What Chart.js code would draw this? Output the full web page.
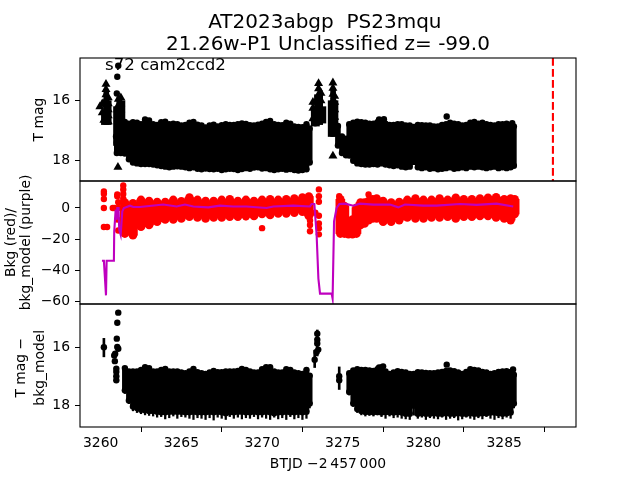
<!DOCTYPE html>
<html>
<head>
<meta charset="utf-8">
<title>AT2023abgp</title>
<style>
  html, body { margin: 0; padding: 0; background: #fff; }
  canvas { display: block; }
</style>
<script src="https://cdn.jsdelivr.net/npm/chart.js@4"></script>
</head>
<body>
<canvas id="lc" width="640" height="480"></canvas>
<script>
// ---------- Text ----------
const TITLE = ["AT2023abgp  PS23mqu ", "21.26w-P1 Unclassified z= -99.0"];
const NOTE = "s72 cam2ccd2";
const X_LABEL = "BTJD \u22122\u2009457\u2009000";

// ---------- Ticks ----------
const X_TICKS = [3260, 3265, 3270, 3275, 3280, 3285];
const T_TICKS = [16, 18];
const M_TICKS = [0, -20, -40, -60];
const B_TICKS = [16, 18];

// ---------- Top panel: T mag ----------
const tX = [3261.0, 3261.25, 3261.5, 3261.75, 3262, 3262.25, 3262.5, 3262.75, 3263, 3263.25,
  3263.5, 3263.75, 3264, 3264.25, 3264.5, 3264.75, 3265, 3265.25, 3265.5, 3265.75,
  3266, 3266.25, 3266.5, 3266.75, 3267, 3267.25, 3267.5, 3267.75, 3268, 3268.25,
  3268.5, 3268.75, 3269, 3269.25, 3269.5, 3269.75, 3270, 3270.25, 3270.5, 3270.75,
  3271, 3271.25, 3271.5, 3271.75, 3272, 3272.25, 3272.5, 3272.75, 3272.95,
  3274.45, 3274.7, 3274.95, 3275.2,
  3275.4, 3275.65, 3275.9, 3276.15, 3276.4, 3276.65, 3276.9, 3277.15, 3277.4, 3277.65,
  3277.9, 3278.15, 3278.4, 3278.65, 3278.9, 3279.15, 3279.4, 3279.65, 3279.9, 3280.15,
  3280.4, 3280.65, 3280.9, 3281.15, 3281.4, 3281.65, 3281.9, 3282.15, 3282.4, 3282.65,
  3282.9, 3283.15, 3283.4, 3283.65, 3283.9, 3284.15, 3284.4, 3284.65, 3284.9, 3285.15,
  3285.4, 3285.6];
const tHi = [16.35, 16.3, 16.71, 16.77, 16.72, 16.74, 16.79, 16.63, 16.66, 16.79,
  16.81, 16.72, 16.70, 16.79, 16.77, 16.79, 16.83, 16.81, 16.74, 16.71,
  16.80, 16.83, 16.90, 16.83, 16.80, 16.86, 16.82, 16.79, 16.81, 16.81,
  16.79, 16.76, 16.78, 16.82, 16.83, 16.80, 16.77, 16.71, 16.68, 16.79,
  16.81, 16.82, 16.74, 16.77, 16.86, 16.88, 16.89, 16.79, 16.93,
  16.7, 16.85, 17.2, 17.27,
  16.79, 16.74, 16.70, 16.72, 16.74, 16.77, 16.77, 16.72, 16.72, 16.77,
  16.81, 16.81, 16.79, 16.79, 16.83, 16.83, 16.88, 16.81, 16.82, 16.83,
  16.83, 16.86, 16.86, 16.81, 16.79, 16.74, 16.77, 16.79, 16.83, 16.81,
  16.74, 16.71, 16.77, 16.74, 16.79, 16.81, 16.83, 16.79, 16.79, 16.77,
  16.81, 16.86];
const tLo = [17.75, 17.75, 17.77, 17.96, 18.07, 18.10, 18.12, 18.12, 18.12, 18.14,
  18.16, 18.19, 18.21, 18.23, 18.21, 18.20, 18.21, 18.23, 18.26, 18.23,
  18.28, 18.30, 18.27, 18.29, 18.30, 18.28, 18.32, 18.30, 18.28, 18.29,
  18.32, 18.29, 18.26, 18.28, 18.24, 18.23, 18.27, 18.26, 18.30, 18.32,
  18.30, 18.28, 18.31, 18.29, 18.32, 18.34, 18.32, 18.30, 18.07,
  17.1, 17.5, 17.75, 17.83,
  17.84, 18.01, 18.10, 18.12, 18.14, 18.14, 18.12, 18.14, 18.10, 18.14,
  18.16, 18.19, 18.16, 18.21, 18.23, 18.21, 18.05, 18.23, 18.26, 18.23,
  18.28, 18.26, 18.30, 18.28, 18.26, 18.23, 18.28, 18.26, 18.23, 18.26,
  18.21, 18.23, 18.21, 18.23, 18.26, 18.23, 18.21, 18.26, 18.23, 18.26,
  18.23, 18.18];
// bright stretches: solid columns under the triangles
const lobeX = [3260.2, 3260.35, 3260.5, 3260.95, 3261.15, 3261.35, 3273.2, 3273.4, 3273.6, 3273.8, 3274.25, 3274.4, 3274.55];
const lobeHi = [16.4, 15.7, 16.0, 16.2, 15.9, 16.0, 16.2, 15.8, 15.7, 16.2, 16.0, 15.6, 16.0];
const lobeLo = [16.8, 16.8, 16.8, 17.5, 17.5, 17.4, 16.85, 16.85, 16.8, 16.75, 17.2, 17.2, 16.75];
// upper limits (triangles)
const tLimX = [3259.95, 3260.1, 3260.1, 3260.2, 3260.33, 3260.33, 3260.33, 3260.33, 3260.33, 3260.33, 3260.33, 3260.33, 3260.47, 3260.47, 3260.47, 3260.47, 3260.47,
  3261.1, 3261.1, 3261.1, 3261.1, 3261.25, 3261.25, 3261.25, 3261.25, 3261.07,
  3273.15, 3273.15, 3273.15, 3273.3, 3273.3, 3273.5, 3273.5, 3273.5, 3273.5, 3273.5, 3273.5, 3273.65, 3273.65, 3273.65, 3273.65,
  3274.39, 3274.39, 3274.39, 3274.39, 3274.39, 3274.39, 3274.39, 3274.39, 3274.5, 3274.5, 3274.5, 3274.5, 3274.39];
const tLimY = [16.2, 16.1, 16.4, 16.65, 15.45, 15.62, 15.8, 15.97, 16.15, 16.3, 16.45, 16.7, 15.9, 16.1, 16.3, 16.5, 16.7,
  15.95, 16.15, 16.35, 16.6, 15.9, 16.1, 16.3, 16.55, 18.23,
  16.05, 16.25, 16.6, 16.05, 16.7, 15.42, 15.6, 15.8, 16.0, 16.2, 16.7, 15.75, 16.0, 16.27, 16.65,
  15.4, 15.58, 15.78, 16.0, 16.2, 16.4, 16.6, 16.85, 15.85, 16.05, 16.3, 16.55, 17.85];
const tDotX = [3261.09, 3261.03, 3261.0, 3277.55, 3277.25, 3281.44, 3285.5, 3260.95, 3261.0];
const tDotY = [14.83, 15.2, 15.76, 16.62, 16.63, 16.53, 16.75, 17.2, 17.4];
// vertical dashed marker
const peakX = [3288.02, 3288.02];
const peakY = [14.57, 18.69];

// ---------- Middle panel: background ----------
const mX = [3261.5, 3262, 3262.5, 3263, 3263.5, 3264, 3264.5, 3265, 3265.5, 3266, 3266.5, 3267, 3267.5, 3268, 3268.5, 3269, 3269.5, 3270, 3270.5, 3271, 3271.5, 3272, 3272.5, 3272.9,
  3274.85, 3275.1, 3275.35, 3275.6, 3275.85, 3276.1, 3276.35, 3276.6, 3276.85, 3277.1, 3277.5, 3278, 3278.5, 3279, 3279.5, 3280, 3280.5, 3281, 3281.5, 3282, 3282.5, 3283, 3283.5, 3284, 3284.5, 3285, 3285.4, 3285.65];
const mHi = [3.5, 3.0, 5.2, 4.5, 3.9, 3.9, 5.2, 4.3, 6.7, 5.2, 4.5, 4.5, 5.2, 5.6, 4.5, 5.2, 4.5, 5.2, 5.6, 5.2, 5.6, 6.1, 6.7, 7.4,
  5.6, 1.3, -12.7, -7.4, 0.2, 3.5, 3.5, 4.5, 5.6, 6.1, 4.5, 3.5, 3.9, 5.2, 6.1, 5.2, 5.2, 6.1, 5.2, 6.5, 5.6, 5.6, 6.1, 6.5, 6.9, 5.6, 6.1, 5.6];
const mLo = [-16.5, -17.5, -12.1, -11, -8.9, -7.4, -7.4, -6.7, -5.6, -6.1, -6.7, -6.1, -6.1, -5.6, -5.6, -5.2, -5.2, -3.9, -4.5, -3.5, -3.5, -3.0, -2.4, -5.2,
  -16.5, -16.5, -16.9, -16.9, -16.5, -11, -10, -7.8, -6.7, -6.7, -8.9, -8.9, -7.8, -6.1, -6.7, -6.7, -6.1, -6.1, -5.6, -6.7, -5.6, -5.6, -5.2, -5.2, -6.1, -6.7, -7.8, -3.9];
const mDotX = [3260.2, 3260.2, 3260.2, 3260.2, 3260.2, 3260.4, 3260.85, 3260.75, 3261.03, 3261.03, 3261.09, 3261.09, 3261.03, 3261.09, 3261.4, 3261.4, 3261.4, 3261.4,
  3269.0, 3270.0, 3272.97, 3272.97, 3272.97, 3272.97, 3273.52, 3273.52, 3273.52, 3273.3, 3273.52, 3273.52, 3273.52, 3273.52, 3274.78, 3274.78, 3276.6];
const mDotY = [10.7, 9.2, 5.8, 0, -12.3, -12.3, 0, 0, 8.7, 7.6, 3.7, 0, -7.5, -14.5, 14.5, 12, 9, 6,
  -6, -13, -4, -8, -11, -15, 12, 7.6, 4, -3, -5, -10, -13, -17, 7.6, 3, 8.7];
const modelX = [3260.08, 3260.2, 3260.33, 3260.37, 3260.82, 3260.84, 3260.93, 3260.99, 3261.03, 3261.11, 3261.15, 3261.24, 3261.34, 3261.44, 3261.82, 3262.02, 3262.43, 3263.88, 3264.71, 3265.22, 3265.74, 3266.67, 3267.39, 3268.22, 3269.04, 3270.28, 3270.7, 3271.94, 3272.97, 3273.07, 3273.24, 3273.38, 3273.49, 3273.59, 3274.31, 3274.37, 3274.46, 3274.62, 3274.79, 3275.14, 3275.65, 3276.06, 3276.89, 3277.92, 3278.44, 3278.85, 3279.99, 3280.81, 3282.26, 3283.29, 3284.53, 3285.56];
const modelY = [-34, -34, -56.3, -34, -34, -15.2, -1, -7.6, 0, 0, -14, -17.3, -2.2, 0, 1.5, 0.6, 0.6, 2.2, 1, 2.2, 1, 0.4, 1.5, 1, 1, 0, 1, 1.5, 1, 2.6, 2.6, -17.3, -45.5, -55.2, -55.2, -58.4, -8.7, 0, 2.6, 2.8, 1.5, 2.8, 2.2, 2.2, 0.4, 2.2, 1.5, 1.5, 2.6, 2, 2.8, 1];

// ---------- Bottom panel: T mag - bkg_model ----------
const bX = [3261.5, 3261.75, 3262, 3262.25, 3262.5, 3262.75, 3263, 3263.25, 3263.5, 3263.75,
  3264, 3264.25, 3264.5, 3264.75, 3265, 3265.25, 3265.5, 3265.75, 3266, 3266.25,
  3266.5, 3266.75, 3267, 3267.25, 3267.5, 3267.75, 3268, 3268.25, 3268.5, 3268.75,
  3269, 3269.25, 3269.5, 3269.75, 3270, 3270.25, 3270.5, 3270.75, 3271, 3271.25,
  3271.5, 3271.75, 3272, 3272.25, 3272.5, 3272.75, 3272.95,
  3275.4, 3275.65, 3275.9, 3276.15, 3276.4, 3276.65, 3276.9, 3277.15, 3277.4, 3277.65,
  3277.9, 3278.15, 3278.4, 3278.65, 3278.9, 3279.15, 3279.4, 3279.65, 3279.9, 3280.15,
  3280.4, 3280.65, 3280.9, 3281.15, 3281.4, 3281.65, 3281.9, 3282.15, 3282.4, 3282.65,
  3282.9, 3283.15, 3283.4, 3283.65, 3283.9, 3284.15, 3284.4, 3284.65, 3284.9, 3285.15,
  3285.4, 3285.6];
const bHi = [16.72, 16.84, 16.84, 16.84, 16.78, 16.69, 16.72, 16.84, 16.84, 16.78,
  16.75, 16.84, 16.84, 16.84, 16.87, 16.90, 16.84, 16.75, 16.86, 16.90,
  16.92, 16.87, 16.82, 16.86, 16.86, 16.84, 16.84, 16.84, 16.82, 16.75,
  16.78, 16.84, 16.87, 16.87, 16.76, 16.69, 16.69, 16.84, 16.87, 16.87,
  16.76, 16.78, 16.87, 16.90, 16.92, 16.78, 16.98,
  16.90, 16.80, 16.76, 16.78, 16.78, 16.80, 16.82, 16.76, 16.70, 16.84,
  16.92, 16.87, 16.83, 16.85, 16.87, 16.92, 16.92, 16.86, 16.87, 16.89,
  16.90, 16.90, 16.87, 16.85, 16.82, 16.80, 16.83, 16.87, 16.92, 16.85,
  16.76, 16.78, 16.80, 16.85, 16.87, 16.92, 16.90, 16.85, 16.84, 16.83,
  16.85, 16.95];
const bLo = [17.49, 17.84, 18.05, 18.10, 18.16, 18.18, 18.21, 18.21, 18.23, 18.25,
  18.25, 18.23, 18.23, 18.23, 18.23, 18.25, 18.25, 18.23, 18.25, 18.25,
  18.25, 18.23, 18.25, 18.23, 18.25, 18.28, 18.25, 18.25, 18.23, 18.23,
  18.25, 18.25, 18.23, 18.25, 18.25, 18.23, 18.25, 18.28, 18.25, 18.25,
  18.23, 18.25, 18.25, 18.23, 18.25, 18.23, 17.95,
  17.55, 17.95, 18.14, 18.21, 18.24, 18.24, 18.25, 18.24, 18.26, 18.24,
  18.25, 18.26, 18.24, 18.26, 18.30, 18.30, 18.02, 18.30, 18.28, 18.30,
  18.30, 18.28, 18.30, 18.30, 18.28, 18.30, 18.30, 18.28, 18.30, 18.30,
  18.28, 18.30, 18.30, 18.28, 18.28, 18.26, 18.26, 18.28, 18.30, 18.28,
  18.26, 17.95];
const bSpike = [17.6, 17.95, 18.2, 18.26, 18.3, 18.34, 18.36, 18.38, 18.42, 18.40,
  18.48, 18.44, 18.38, 18.46, 18.40, 18.42, 18.46, 18.50, 18.44, 18.46,
  18.50, 18.44, 18.52, 18.42, 18.46, 18.50, 18.40, 18.46, 18.42, 18.48,
  18.44, 18.46, 18.40, 18.48, 18.42, 18.46, 18.50, 18.42, 18.48, 18.44,
  18.50, 18.40, 18.48, 18.44, 18.50, 18.46, 18.1,
  17.65, 18.05, 18.26, 18.34, 18.38, 18.36, 18.38, 18.34, 18.40, 18.46,
  18.38, 18.44, 18.42, 18.46, 18.48, 18.50, 18.35, 18.46, 18.42, 18.50,
  18.44, 18.46, 18.48, 18.42, 18.50, 18.46, 18.44, 18.52, 18.48, 18.42,
  18.46, 18.50, 18.44, 18.48, 18.40, 18.46, 18.50, 18.44, 18.48, 18.42,
  18.46, 18.1];
const bDotX = [3260.2, 3261.09, 3261.03, 3261.0, 3261.03, 3261.09, 3260.9, 3260.84, 3260.88, 3260.97, 3260.97, 3260.97, 3260.97,
  3273.42, 3273.42, 3273.42, 3273.48, 3273.38, 3273.26, 3274.78, 3274.78, 3277.25, 3277.5, 3281.44, 3285.55];
const bDotY = [16.0, 14.80, 15.15, 15.7, 15.99, 16.05, 16.22, 16.28, 16.48, 16.74, 16.85, 17.0, 17.14,
  15.53, 15.74, 15.87, 16.08, 16.16, 16.43, 17.0, 17.14, 16.70, 16.66, 16.6, 16.77];
const bErrX = [3260.2, 3273.42, 3273.26, 3274.78];
const bErrHi = [15.69, 15.4, 16.1, 16.68];
const bErrLo = [16.33, 16.3, 16.7, 17.46];

// ---------- Helpers ----------
const pts = (xs, ys) => xs.map((x, i) => ({ x, y: ys[i] }));
const spans = (xs, hi, lo) => xs.map((x, i) => ({ x, y: [hi[i], lo[i]] }));

const FONT = "'DejaVu Sans'";
const setTicks = (list) => (axis) => { axis.ticks = list.map((value) => ({ value })); };
const minusFmt = (v) => String(v).replace("-", "\u2212");

const bar = (data, yAxisID, color, barThickness, order) =>
  ({ type: "bar", data, yAxisID, backgroundColor: color, barThickness, grouped: false, order });
const dots = (data, yAxisID, color, pointRadius, order, pointStyle = "circle") =>
  ({ type: "line", data, yAxisID, showLine: false, pointStyle, pointRadius, backgroundColor: color, borderColor: color, borderWidth: 0, order });

const yScale = (min, max, ticks, label, labelPad, lineHeight, reverse) => ({
  type: "linear",
  position: "left",
  stack: "panels",
  stackWeight: 1,
  min,
  max,
  reverse,
  afterFit: (s) => { s.width = 80; },
  afterBuildTicks: setTicks(ticks),
  grid: { drawOnChartArea: false, drawTicks: true, tickLength: 5, tickColor: "#000", tickWidth: 1 },
  border: { display: false },
  ticks: { color: "#000", font: { family: FONT, size: 13.9 }, padding: 5, callback: minusFmt },
  title: { display: true, text: label, color: "#000", font: { family: FONT, size: 13.9, lineHeight }, padding: { top: labelPad, bottom: 0 } },
});

// ---------- Plugins ----------
// black frame round each panel
const panelFrames = {
  id: "panelFrames",
  afterDatasetsDraw(chart) {
    const { ctx, chartArea } = chart;
    ctx.save();
    ctx.strokeStyle = "#000";
    ctx.lineWidth = 1.1;
    ["yT", "yM", "yB"].forEach((id) => {
      const s = chart.scales[id];
      ctx.strokeRect(chartArea.left, s.top, chartArea.right - chartArea.left, s.bottom - s.top);
    });
    ctx.restore();
  },
};
// the label inside the top panel, placed with data coordinates
const panelNote = {
  id: "panelNote",
  afterDatasetsDraw(chart) {
    const { ctx, scales } = chart;
    ctx.save();
    ctx.fillStyle = "#000";
    ctx.font = `16.67px ${FONT}`;
    ctx.textBaseline = "alphabetic";
    ctx.fillText(NOTE, scales.x.getPixelForValue(3260.27), scales.yT.getPixelForValue(14.96));
    ctx.restore();
  },
};

// ---------- Chart ----------
new Chart(document.getElementById("lc"), {
  type: "bar",
  plugins: [panelFrames, panelNote],
  data: {
    datasets: [
      // top
      { type: "line", data: pts(peakX, peakY), yAxisID: "yT", borderColor: "#ff0000", borderWidth: 2.1, borderDash: [7.7, 3.3], pointRadius: 0, order: 1 },
      bar(spans(tX, tHi, tLo), "yT", "#000", 5, 5),
      bar(spans(lobeX, lobeHi, lobeLo), "yT", "#000", 5, 5),
      dots(pts(tX, tHi), "yT", "#000", 3.2, 4),
      dots(pts(tX, tLo), "yT", "#000", 3.2, 4),
      dots(pts(tDotX, tDotY), "yT", "#000", 3.2, 3),
      dots(pts(tLimX, tLimY), "yT", "#000", 5.2, 3, "triangle"),
      // middle
      bar(spans(mX, mHi, mLo), "yM", "#ff0000", 9, 8),
      dots(pts(mX, mHi), "yM", "#ff0000", 4.3, 7),
      dots(pts(mX, mLo), "yM", "#ff0000", 4.3, 7),
      dots(pts(mDotX, mDotY), "yM", "#ff0000", 3.2, 7),
      { type: "line", data: pts(modelX, modelY), yAxisID: "yM", borderColor: "#bf00bf", borderWidth: 2.1, pointRadius: 0, order: 2 },
      // bottom
      bar(spans(bX, bHi, bLo), "yB", "#000", 5, 5),
      bar(spans(bX, bHi, bSpike), "yB", "#000", 1.6, 5),
      bar(spans(bErrX, bErrHi, bErrLo), "yB", "#000", 2, 5),
      dots(pts(bX, bHi), "yB", "#000", 3.2, 4),
      dots(pts(bX, bLo), "yB", "#000", 3.2, 4),
      dots(pts(bDotX, bDotY), "yB", "#000", 3.2, 3),
    ],
  },
  options: {
    responsive: false,
    animation: false,
    devicePixelRatio: 1,
    layout: { padding: { left: 0, right: 64, top: 0, bottom: 0 } },
    plugins: {
      legend: { display: false },
      tooltip: { enabled: false },
      title: {
        display: true,
        text: TITLE,
        fullSize: false,
        color: "#000",
        font: { family: FONT, size: 20, weight: "normal", lineHeight: 1.1 },
        padding: { top: 11.5, bottom: 2.5 },
      },
    },
    scales: {
      x: {
        type: "linear",
        min: 3258.72,
        max: 3289.45,
        offset: false,
        afterFit: (s) => { s.height = 53; },
        afterBuildTicks: setTicks(X_TICKS),
        grid: { drawOnChartArea: false, drawTicks: true, tickLength: 5, tickColor: "#000", tickWidth: 1 },
        border: { display: false },
        ticks: { color: "#000", font: { family: FONT, size: 13.9 }, padding: 3, maxRotation: 0, autoSkip: false, callback: (v) => String(v) },
        title: { display: true, text: X_LABEL, color: "#000", font: { family: FONT, size: 13.9 }, padding: { top: 3, bottom: 7 } },
      },
      yB: yScale(14.5, 18.76, B_TICKS, ["T mag \u2212 ", "bkg_model "], 11.5, 1.37, true),
      yM: yScale(-61.9, 17.4, M_TICKS, ["Bkg (red)/", "bkg_model (purple)"], 3.5, 1.08, false),
      yT: yScale(14.57, 18.69, T_TICKS, "T mag", 31, 1.15, true),
    },
  },
});
</script>
</body>
</html>
